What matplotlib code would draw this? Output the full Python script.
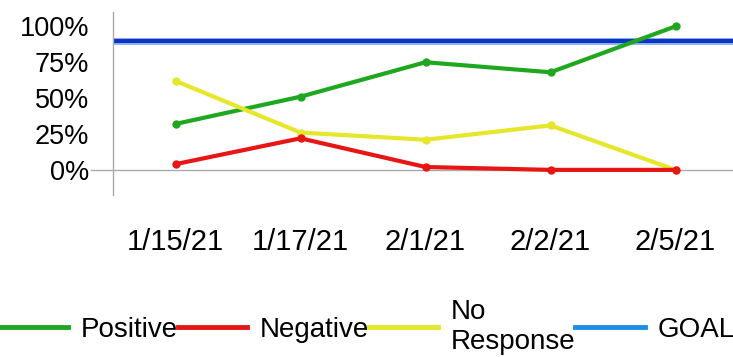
import matplotlib.pyplot as plt
from matplotlib.lines import Line2D

plt.rcParams['font.family'] = ['Liberation Sans', 'DejaVu Sans']

dates = ['1/15/21', '1/17/21', '2/1/21', '2/2/21', '2/5/21']
positive = [32, 51, 75, 68, 100]
negative = [4, 22, 2, 0, 0]
no_response = [62, 26, 21, 31, 0]
goal = 90

green = '#1fa81f'
red = '#e81515'
yellow = '#e6e62a'
blue = '#0b33c4'
legend_blue = '#1e8ee6'

fig = plt.figure(figsize=(7.33, 3.57), dpi=100)
ax = fig.add_axes([113 / 733, 1 - 195 / 357, 1 - 113 / 733, (195 - 12) / 357])

x = range(len(dates))
ax.axhline(0, xmin=-0.035, xmax=1, color='#aaaaaa', lw=1, clip_on=False, zorder=1)
ax.axhline(goal, color='#8fb8f0', lw=5, zorder=2)
ax.axhline(goal, color=blue, lw=3, zorder=2)
ax.plot(x, positive, color=green, lw=3, marker='o', ms=5, zorder=3)
ax.plot(x, no_response, color=yellow, lw=3, marker='o', ms=5, zorder=4)
ax.plot(x, negative, color=red, lw=3, marker='o', ms=5, zorder=5)

ax.set_xlim(-0.5, 4.46)
ax.set_ylim(-17.5, 110)
ax.set_yticks([0, 25, 50, 75, 100])
ax.set_yticklabels(['0%', '25%', '50%', '75%', '100%'])
ax.set_xticks(list(x))
ax.set_xticklabels(dates)
ax.tick_params(axis='y', length=0, pad=17, labelsize=19.5)
ax.tick_params(axis='x', length=0, pad=24, labelsize=21)

for s in ['top', 'right', 'bottom']:
    ax.spines[s].set_visible(False)
ax.spines['left'].set_color('#aaaaaa')
ax.spines['left'].set_linewidth(1)

handles = [
    Line2D([], [], color=green, lw=3.5),
    Line2D([], [], color=red, lw=3.5),
    Line2D([], [], color=yellow, lw=3.5),
    Line2D([], [], color=legend_blue, lw=3.5),
]
labels = ['Positive', 'Negative', 'No\nResponse', 'GOAL']
fig.legend(handles, labels, loc='center', bbox_to_anchor=(0.5, 1 - 327 / 357),
           ncol=4, frameon=False, fontsize=20, handlelength=2.5,
           handletextpad=0.45, columnspacing=0.0, labelspacing=0.0,
           borderpad=0, borderaxespad=0)

fig.savefig('out.png', dpi=100)
